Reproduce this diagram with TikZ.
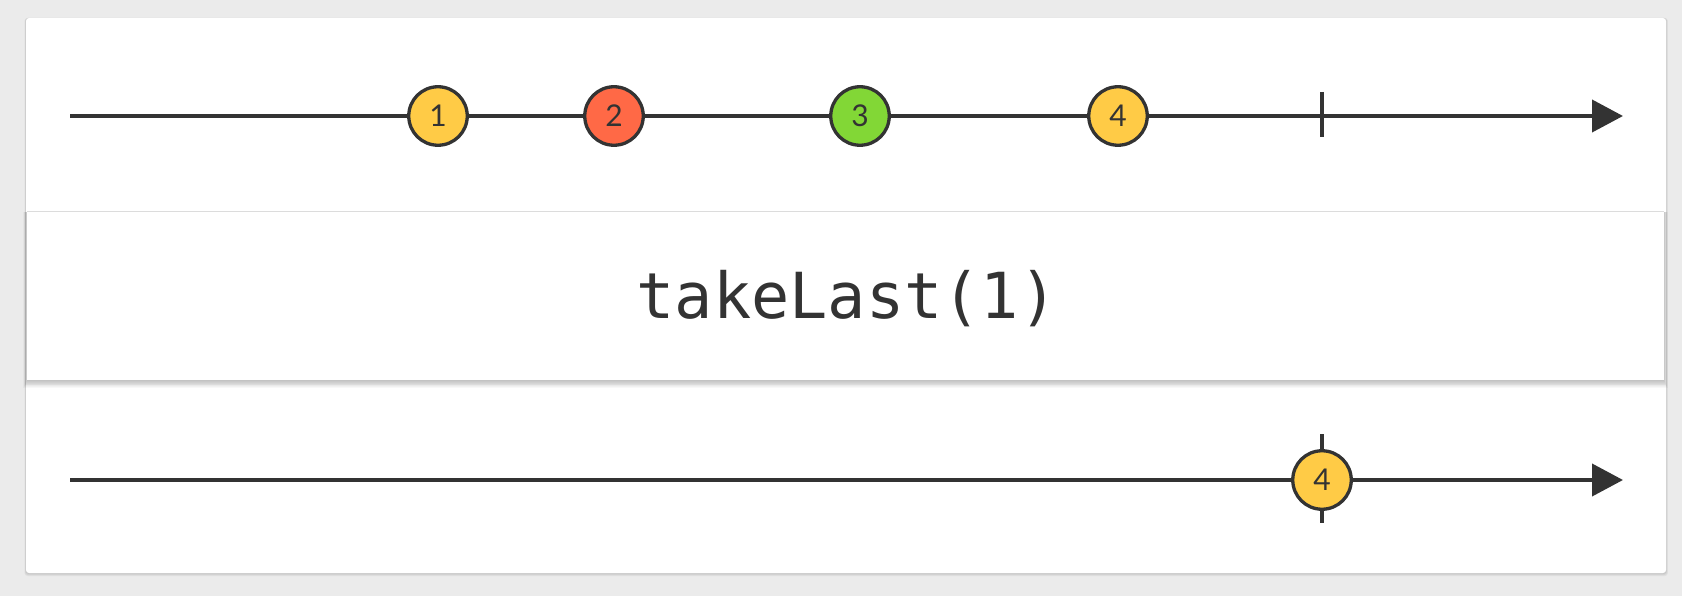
\documentclass[tikz,border=0pt]{standalone}
\usepackage{fontspec}
\newfontfamily\digitfont{Lato}
\newfontfamily\opfont{DejaVu Sans Mono}
\usetikzlibrary{arrows.meta}
\definecolor{ink}{HTML}{333333}
\definecolor{pagebg}{HTML}{EBEBEB}
\definecolor{marbleyellow}{HTML}{FFCB46}
\definecolor{marblered}{HTML}{FF6946}
\definecolor{marblegreen}{HTML}{82D736}
\definecolor{edgegray}{HTML}{DCDCDC}
\tikzset{
  timeline/.style={draw=ink, line width=4pt, -{Triangle[length=31pt,width=32pt]}},
  tickmark/.style={draw=ink, line width=3.6pt},
  marble/.style={circle, draw=ink, line width=3.3pt, minimum size=58.5pt, inner sep=0pt,
    text=ink, font=\digitfont\fontsize{30}{30}\selectfont},
  opbox/.style={fill=white},
}
\begin{document}
\begin{tikzpicture}[x=1pt,y=-1pt]
  % page and card
  \fill[pagebg] (0,0) rectangle (1682,596);
  \useasboundingbox (0,0) rectangle (1682,596);
  \foreach \d in {1,2,3} {
    \fill[black,opacity=0.05,rounded corners=3pt] (26-\d*0.5,18) rectangle (1666+\d*0.6,573+\d);
  }
  \fill[white,rounded corners=3pt] (26,18) rectangle (1666,573);

  % source timeline
  \coordinate (s1) at (70,116);
  \coordinate (e1) at (1623,116);
  \draw[timeline] (s1) -- (e1);
  \coordinate (t1a) at (1322,92);
  \coordinate (t1b) at (1322,137);
  \draw[tickmark] (t1a) -- (t1b);
  \node[marble, fill=marbleyellow] (a1) at (438,116) {1};
  \node[marble, fill=marblered]    (a2) at (614,116) {2};
  \node[marble, fill=marblegreen]  (a3) at (860,116) {3};
  \node[marble, fill=marbleyellow] (a4) at (1118,116) {4};

  % operator box with soft shadow
  \foreach \d in {1,...,9} {
    \fill[black,opacity=0.028] (27-\d*0.4,212) rectangle (1664+\d*0.4,380+\d*0.9);
  }
  \fill[opbox] (27,211) rectangle (1664,380);
  \draw[edgegray, line width=1.2pt] (27,211.5) -- (1664,211.5);
  \node[text=ink, font=\opfont\fontsize{63.5}{63.5}\selectfont, anchor=base] (op) at (847,318) {takeLast(1)};

  % result timeline
  \coordinate (s2) at (70,480);
  \coordinate (e2) at (1623,480);
  \draw[timeline] (s2) -- (e2);
  \coordinate (t2a) at (1322,434);
  \coordinate (t2b) at (1322,523);
  \draw[tickmark] (t2a) -- (t2b);
  \node[marble, fill=marbleyellow] (b4) at (1322,480) {4};
\end{tikzpicture}
\end{document}
